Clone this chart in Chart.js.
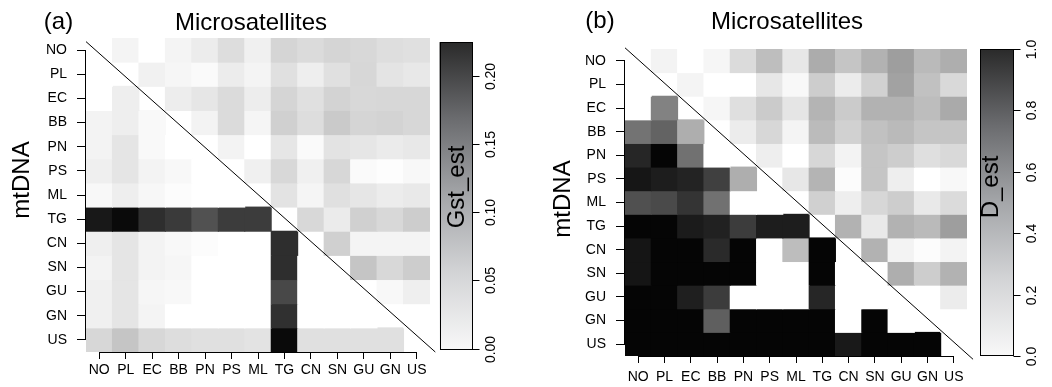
<!DOCTYPE html>
<html>
<head>
<meta charset="utf-8">
<title>Gst_est / D_est</title>
<script src="https://cdn.jsdelivr.net/npm/chart.js@4.4.1/dist/chart.umd.min.js"></script>
<style>
  body { margin: 0; background: #fff; }
  #wrap { position: relative; width: 1052px; height: 387px; }
  canvas { position: absolute; top: 0; }
  #gst { left: 0; }
  #dest { left: 520px; }
</style>
</head>
<body>
<div id="wrap">
  <canvas id="gst" width="520" height="387"></canvas>
  <canvas id="dest" width="532" height="387"></canvas>
</div>
<script>
const pops = ['NO', 'PL', 'EC', 'BB', 'PN', 'PS', 'ML', 'TG', 'CN', 'SN', 'GU', 'GN', 'US'];

// row i, col j: below the diagonal = mtDNA, above = microsatellites
const gst = [
  [null, 0.010, 0, 0.010, 0.017, 0.030, 0.013, 0.037, 0.032, 0.037, 0.034, 0.029, 0.027],
  [0, null, 0.012, 0.008, 0.004, 0.017, 0.010, 0.027, 0.015, 0.027, 0.035, 0.024, 0.020],
  [0, 0.015, null, 0.016, 0.022, 0.032, 0.016, 0.037, 0.027, 0.039, 0.034, 0.035, 0.035],
  [0.011, 0.015, 0.005, null, 0.011, 0.032, 0.009, 0.041, 0.030, 0.047, 0.037, 0.039, 0.035],
  [0.011, 0.023, 0.005, 0, null, 0.011, 0, 0.022, 0.004, 0.025, 0.022, 0.018, 0.020],
  [0.014, 0.023, 0.011, 0.006, 0, null, 0.013, 0.034, 0.013, 0.035, 0.004, 0.002, 0.006],
  [0.006, 0.015, 0.007, 0.003, 0, 0, null, 0.025, 0.009, 0.027, 0.022, 0.017, 0.019],
  [0.203, 0.216, 0.184, 0.173, 0.153, 0.172, 0.172, null, 0.034, 0.018, 0.041, 0.034, 0.044],
  [0.014, 0.023, 0.011, 0.006, 0.003, 0, 0, 0.184, null, 0.041, 0.010, 0.010, 0.010],
  [0.011, 0.023, 0.011, 0.008, 0, 0, 0, 0.184, 0, null, 0.051, 0.034, 0.044],
  [0.013, 0.023, 0.008, 0.006, 0, 0, 0, 0.161, 0, 0, null, 0.006, 0.014],
  [0.013, 0.023, 0.010, 0, 0, 0, 0, 0.182, 0, 0, 0, null, 0],
  [0.035, 0.051, 0.035, 0.030, 0.027, 0.027, 0.025, 0.216, 0.027, 0.027, 0.027, 0.027, null]
];

const dEst = [
  [null, 0.047, 0, 0.035, 0.145, 0.259, 0.098, 0.333, 0.231, 0.310, 0.388, 0.278, 0.325],
  [0, null, 0.043, 0, 0, 0.098, 0.027, 0.200, 0.075, 0.184, 0.373, 0.247, 0.153],
  [0, 0.502, null, 0.035, 0.129, 0.208, 0.106, 0.302, 0.208, 0.310, 0.310, 0.263, 0.341],
  [0.561, 0.624, 0.325, null, 0.075, 0.161, 0.043, 0.271, 0.184, 0.247, 0.278, 0.231, 0.231],
  [0.867, 1.0, 0.569, 0, null, 0.067, 0, 0.161, 0.047, 0.231, 0.200, 0.129, 0.153],
  [0.933, 0.906, 0.882, 0.765, 0.325, null, 0.098, 0.302, 0.014, 0.231, 0.067, 0, 0.027],
  [0.702, 0.725, 0.812, 0.569, 0, 0, null, 0.188, 0.067, 0.161, 0.200, 0.090, 0.145],
  [1.0, 1.0, 0.914, 0.890, 0.780, 0.906, 0.906, null, 0.310, 0.090, 0.310, 0.278, 0.388],
  [0.937, 1.0, 1.0, 0.851, 1.0, 0, 0.263, 1.0, null, 0.310, 0.047, 0.014, 0.047],
  [0.937, 1.0, 1.0, 1.0, 1.0, 0, 0, 1.0, 0, null, 0.325, 0.200, 0.310],
  [1.0, 1.0, 0.898, 0.780, 0, 0, 0, 0.867, 0, 0, null, 0, 0.075],
  [1.0, 1.0, 1.0, 0.639, 1.0, 1.0, 1.0, 1.0, 0, 1.0, 0, null, 0],
  [1.0, 1.0, 1.0, 1.0, 1.0, 1.0, 1.0, 1.0, 0.922, 1.0, 1.0, 1.0, null]
];

const gstTicks = [0, 0.05, 0.10, 0.15, 0.20];
const dTicks = [0, 0.2, 0.4, 0.6, 0.8, 1.0];

// separator line between the two triangles
const diagA = [{x: -0.5, y: -0.35}, {x: 12.7, y: 12.5}];
const diagB = [{x: -0.5, y: -0.55}, {x: 12.73, y: 12.64}];

Chart.defaults.font.family = '"Liberation Sans", Arial, sans-serif';
Chart.defaults.color = '#000';

function grey(v, vmax) {
  const t = Math.min(Math.max(v / vmax, 0), 1);
  const g = Math.round(255 - 250 * t);
  return 'rgb(' + g + ',' + g + ',' + g + ')';
}

function cellSets(mat, vmax) {
  return mat.map((row, i) => ({
    label: pops[i],
    data: row.map((v, j) => v === null ? null : {x: j, y: [i - 0.5, i + 0.5], v: v}).filter(d => d),
    backgroundColor: c => c.raw ? grey(c.raw.v, vmax) : '#fff',
    borderWidth: 0,
    inflateAmount: 0.5,
    barPercentage: 1,
    categoryPercentage: 1,
    grouped: false
  }));
}

// colour key, panel letters, titles and the short R-style axis lines
const panelDeco = {
  id: 'panelDeco',
  afterDraw(chart, args, o) {
    const ctx = chart.ctx;
    const area = chart.chartArea;
    const xs = chart.scales.x, ys = chart.scales.y, cb = chart.scales.cb;
    ctx.save();
    ctx.strokeStyle = '#000';
    ctx.lineWidth = 1;

    const ax = Math.round(area.left) - 0.5;
    const ay = Math.round(area.bottom) + 0.5;
    ctx.beginPath();
    ctx.moveTo(ax, ys.getPixelForValue(0));
    ctx.lineTo(ax, ys.getPixelForValue(pops.length - 1));
    ctx.moveTo(xs.getPixelForValue(0), ay);
    ctx.lineTo(xs.getPixelForValue(pops.length - 1), ay);
    ctx.stroke();

    // colour bar
    const top = cb.getPixelForValue(o.range[1]);
    const bot = cb.getPixelForValue(o.range[0]);
    const grad = ctx.createLinearGradient(0, bot, 0, top);
    grad.addColorStop(0, '#f8f8f8');
    grad.addColorStop(0.25, '#d3d4d6');
    grad.addColorStop(0.5, '#a4a6a9');
    grad.addColorStop(0.75, '#6b6c6f');
    grad.addColorStop(1, '#2a2a2a');
    ctx.fillStyle = grad;
    ctx.fillRect(o.left, top, o.right - o.left, bot - top);
    ctx.strokeRect(Math.round(o.left) + 0.5, Math.round(top) + 0.5,
      Math.round(o.right - o.left) - 1, Math.round(bot - top) - 1);

    ctx.fillStyle = '#000';
    ctx.font = '14px "Liberation Sans", Arial, sans-serif';
    o.ticks.forEach(t => {
      const y = Math.round(cb.getPixelForValue(t)) + 0.5;
      ctx.beginPath();
      ctx.moveTo(o.right, y);
      ctx.lineTo(o.right + 7, y);
      ctx.stroke();
      ctx.save();
      ctx.translate(o.tickX, y);
      ctx.rotate(-Math.PI / 2);
      ctx.textAlign = 'center';
      ctx.textBaseline = 'middle';
      ctx.fillText(t.toFixed(o.decimals), 0, 0);
      ctx.restore();
    });

    ctx.font = '24px "Liberation Sans", Arial, sans-serif';
    ctx.textAlign = 'center';
    ctx.textBaseline = 'alphabetic';
    ctx.fillText(o.tag[0], o.tag[1], o.tag[2]);
    ctx.fillText(o.title[0], o.title[1], o.title[2]);
    [o.yTitle, o.key].forEach(s => {
      ctx.save();
      ctx.translate(s[1], s[2]);
      ctx.rotate(-Math.PI / 2);
      ctx.fillText(s[0], 0, 0);
      ctx.restore();
    });
    ctx.restore();
  }
};

function makeChart(id, mat, vmax, diag, deco, lay) {
  return new Chart(document.getElementById(id), {
    type: 'bar',
    data: {
      datasets: [
        {type: 'line', data: diag, borderColor: '#000', borderWidth: 1,
         pointRadius: 0, clip: false, order: -1},
        ...cellSets(mat, vmax)
      ]
    },
    options: {
      responsive: false,
      animation: false,
      events: [],
      layout: {padding: lay.padding},
      plugins: {
        legend: {display: false},
        tooltip: {enabled: false},
        panelDeco: deco
      },
      scales: {
        x: {
          type: 'linear', min: -0.5, max: 12.5, offset: false,
          grid: {drawOnChartArea: false, offset: false, tickLength: 7, color: '#000'},
          border: {display: false},
          ticks: {autoSkip: false, maxRotation: 0, padding: lay.xPad, font: {size: 14},
                  callback: v => pops[v]},
          afterBuildTicks: s => { s.ticks = pops.map((p, i) => ({value: i})); },
          afterFit: s => { s.height = lay.xH; }
        },
        y: {
          type: 'linear', reverse: true, min: -0.5, max: 12.5,
          grid: {drawOnChartArea: false, tickLength: 9, color: '#000'},
          border: {display: false},
          ticks: {autoSkip: false, padding: 10, font: {size: 14},
                  callback: v => pops[v]},
          afterBuildTicks: s => { s.ticks = pops.map((p, i) => ({value: i})); },
          afterFit: s => { s.width = lay.yW; }
        },
        cb: {type: 'linear', position: 'right', display: false, min: lay.cbMin, max: lay.cbMax}
      }
    },
    plugins: [panelDeco]
  });
}

makeChart('gst', gst, 0.22, diagA, {
  range: [-0.001, 0.225], ticks: gstTicks, decimals: 2,
  left: 439.5, right: 472.5, tickX: 491,
  tag: ['(a)', 58.5, 29], title: ['Microsatellites', 251, 29.5],
  yTitle: ['mtDNA', 28.5, 180], key: ['Gst_est', 464, 187]
}, {padding: {top: 38, right: 90, bottom: 0, left: 0}, xH: 35, yW: 86, xPad: 3,
    cbMin: -0.0025, cbMax: 0.228});

makeChart('dest', dEst, 1.0, diagB, {
  range: [0, 1], ticks: dTicks, decimals: 1,
  left: 460, right: 493.5, tickX: 512,
  tag: ['(b)', 80, 28], title: ['Microsatellites', 267, 28.5],
  yTitle: ['mtDNA', 50, 199], key: ['D_est', 478, 187]
}, {padding: {top: 49, right: 85, bottom: 0, left: 0}, xH: 31, yW: 105, xPad: 6,
    cbMin: 0, cbMax: 1});
</script>
</body>
</html>
